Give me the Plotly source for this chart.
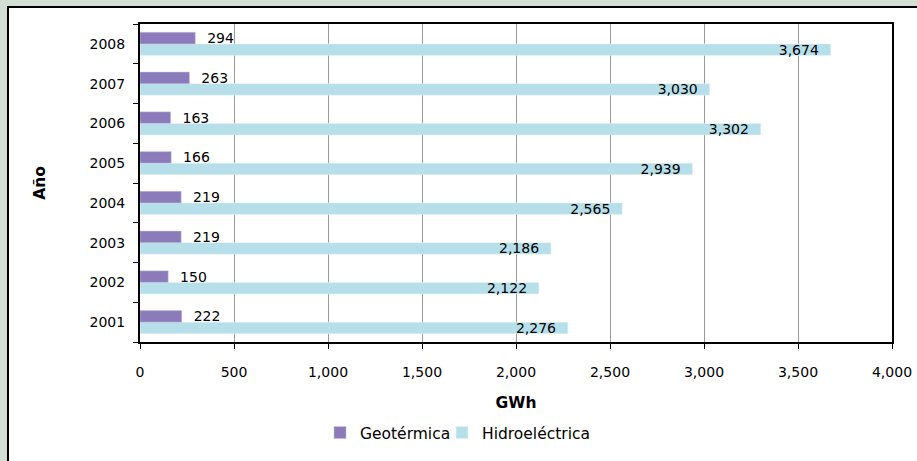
import plotly.graph_objects as go

years = ["2001", "2002", "2003", "2004", "2005", "2006", "2007", "2008"]
geotermica = [222, 150, 219, 219, 166, 163, 263, 294]
hidroelectrica = [2276, 2122, 2186, 2565, 2939, 3302, 3030, 3674]
x_ticks = [0, 500, 1000, 1500, 2000, 2500, 3000, 3500, 4000]

FONT = "DejaVu Sans"
PURPLE = "#8C7BBA"
BLUE = "#B7DFEA"

fig = go.Figure()
fig.add_trace(go.Bar(
    y=years, x=hidroelectrica, orientation="h", name="Hidroeléctrica",
    marker=dict(color=BLUE, line=dict(color="#E8F4F8", width=0.5)),
    text=[f"{v:,}  " for v in hidroelectrica], textposition="inside",
    insidetextanchor="end", constraintext="none",
    textfont=dict(family=FONT, size=14, color="black"),
    legend="legend2",
))
fig.add_trace(go.Bar(
    y=years, x=geotermica, orientation="h", name="Geotérmica",
    marker=dict(color=PURPLE, line=dict(color="#C9C0DF", width=0.5)),
    text=[f"  {v:,}" for v in geotermica], textposition="outside",
    constraintext="none", cliponaxis=False,
    textfont=dict(family=FONT, size=14, color="black"),
    legend="legend",
))

L, R, T, B = 140, 917 - 892, 24, 461 - 342
W = 917 - L - R
H = 461 - T - B

legend_common = dict(orientation="h", xanchor="left", y=(342 - 416) / H,
                     yanchor="top", font=dict(size=15.5), itemwidth=30,
                     bgcolor="rgba(0,0,0,0)")

fig.update_layout(
    width=917, height=461,
    margin=dict(l=L, r=R, t=T, b=B, autoexpand=False),
    paper_bgcolor="#D4DFD3",
    plot_bgcolor="white",
    barmode="group", bargap=0.42, bargroupgap=0.0,
    font=dict(family=FONT, size=14, color="black"),
    showlegend=True,
    legend=dict(x=(320 - L) / W, **legend_common),
    legend2=dict(x=(442 - L) / W, **legend_common),
    xaxis=dict(range=[0, 4000], tickvals=x_ticks, tickformat=",",
               showgrid=True, gridcolor="#9A9A9A", gridwidth=1.3,
               showline=True, linecolor="black", linewidth=2, mirror=True,
               ticks="outside", ticklen=5, tickcolor="black",
               ticklabelstandoff=11, zeroline=False, automargin=False,
               title=dict(text="<b>GWh</b>", standoff=18, font=dict(size=15.5))),
    yaxis=dict(type="category", categoryorder="array", categoryarray=years,
               showline=True, linecolor="black", linewidth=2, mirror=True,
               ticks="outside", ticklen=5, tickcolor="black",
               tickson="boundaries", showgrid=False, automargin=False,
               ticklabelstandoff=10,
               title=dict(text="<b>Año</b>", standoff=40, font=dict(size=15.5))),
    shapes=[dict(type="rect", xref="paper", yref="paper", layer="below",
                 x0=(8 - L) / W, x1=(960 - L) / W,
                 y0=(342 - 500) / H, y1=(342 - 7) / H,
                 fillcolor="white", line=dict(color="black", width=2))],
)

fig.write_html(
    "out.html",
    config={"displayModeBar": False},
    post_script="document.body.style.margin='0';document.body.style.overflow='hidden';",
)
